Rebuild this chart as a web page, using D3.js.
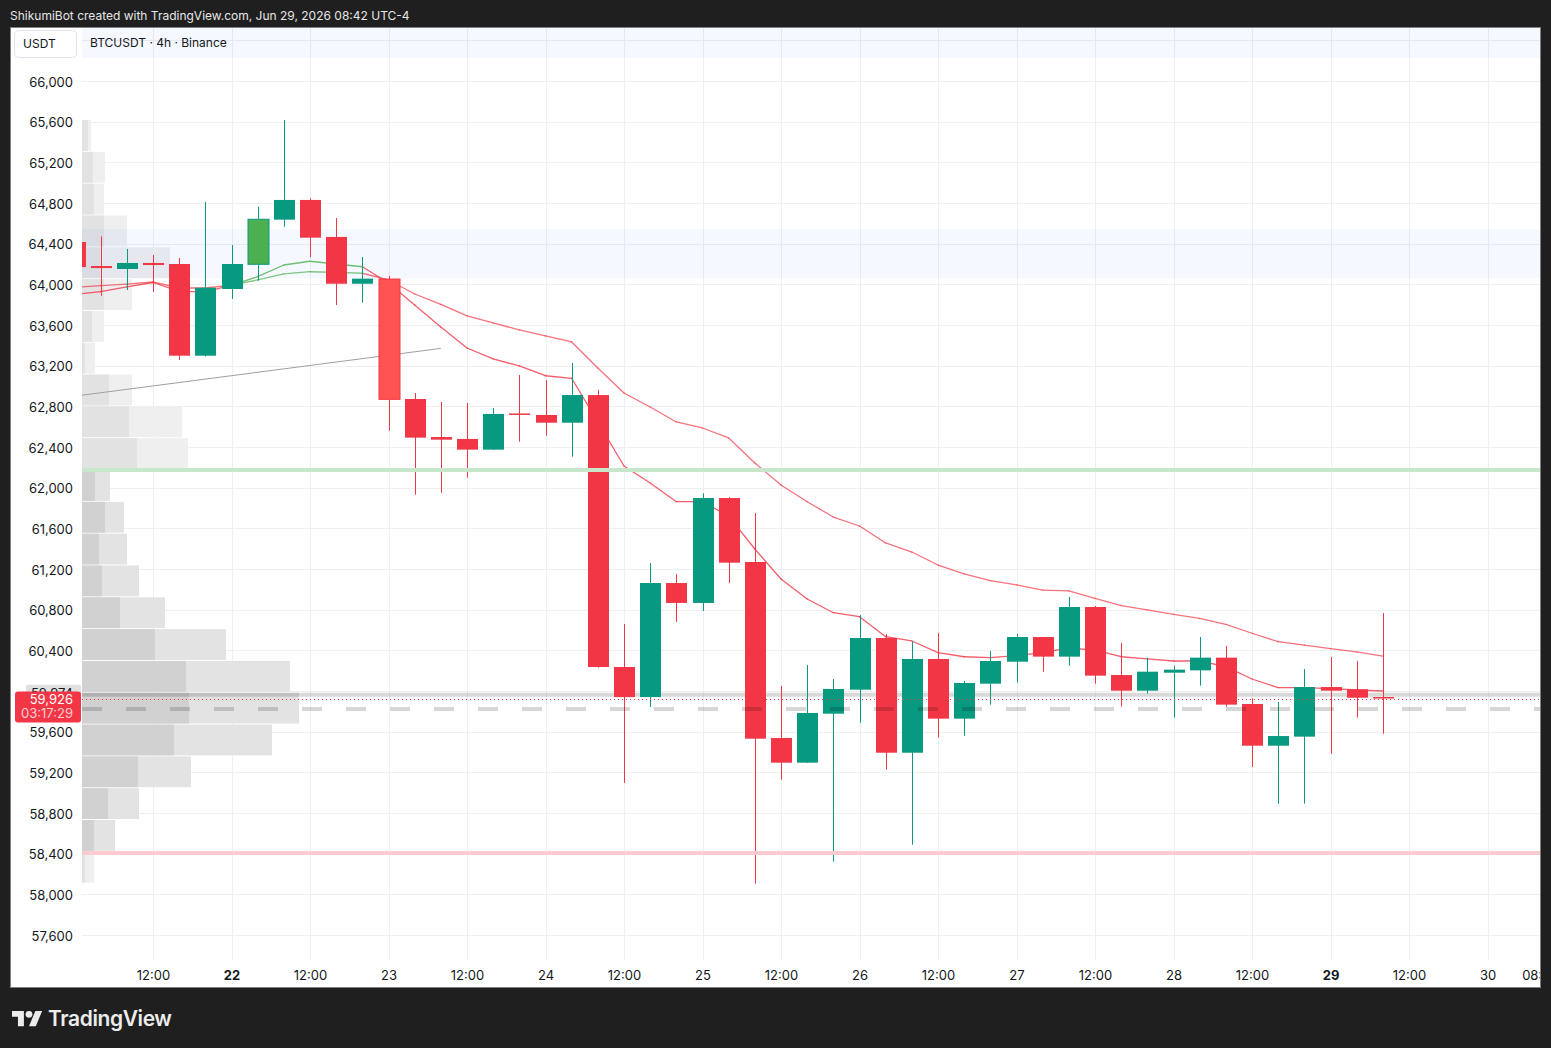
<!DOCTYPE html>
<html>
<head>
<meta charset="utf-8">
<script src="https://cdn.jsdelivr.net/npm/d3@7"></script>
<style>
  body { margin: 0; background: #1f1f1f; }
  svg { display: block; font-family: Inter, "Noto Sans", sans-serif; }
</style>
</head>
<body>
<svg id="chart" width="1551" height="1048"></svg>
<script>
// BTCUSDT 4h candles, chart time UTC-4, first bar Jun 21 00:00
var firstBar = "2026-06-21T00:00:00Z";
var opens  = [64416,64180,64151,64210,64200,63298,63954,64197,64636,64830,64466,64006,64052,62872,62498,62479,62374,62730,62715,62639,62911,60236,59940,61062,60866,61898,61269,59538,59295,59777,60013,60521,59393,60315,59728,60072,60288,60531,60338,60826,60157,60003,60180,60203,60328,59872,59462,59551,60039,60017,59941];
var highs  = [64450,64472,64348,64289,64259,64810,64387,64764,65616,64846,64652,64269,64082,62931,62843,62833,62784,63108,63059,63226,62961,60659,61259,61150,61945,61908,61751,60049,60256,60118,60748,60561,60489,60571,60098,60393,60561,60531,60925,60836,60472,60328,60250,60531,60443,59928,59892,60216,60334,60295,60767];
var lows   = [64100,63888,63944,63925,63256,63290,63856,64036,64567,64269,63797,63820,62560,61931,61950,62098,62374,62453,62511,62305,60230,59095,59843,60679,60787,61062,58105,59128,59295,58321,59688,59226,58488,59541,59560,59865,60082,60190,60249,60072,59846,59974,59738,60052,59846,59252,58892,58892,59383,59738,59580];
var closes = [64170,64160,64210,64190,63298,63967,64200,64640,64830,64459,64006,64056,62869,62492,62472,62374,62725,62720,62639,62911,60236,59940,61062,60866,61898,61262,59531,59295,59784,60020,60521,59393,60315,59728,60079,60295,60531,60338,60826,60151,60003,60190,60210,60328,59866,59462,59557,60039,60003,59934,59926];
var signalBars = [7, 12];

// moving averages
var maFast = [63902,63928,63974,64018,63930,63925,63993,64075,64190,64227,64200,64173,64013,63797,63580,63374,63266,63197,63101,63076,62646,62213,62046,61862,61862,61721,61397,61102,60905,60770,60731,60534,60492,60377,60337,60328,60347,60377,60423,60403,60337,60315,60295,60295,60239,60118,60033,60033,60023,60010,60000];
var maSlow = [63969,63988,64003,64023,63964,63964,63993,64043,64102,64124,64118,64109,64043,63905,63802,63689,63620,63551,63492,63433,63177,62931,62793,62646,62587,62489,62243,62026,61862,61711,61623,61456,61367,61239,61151,61085,61043,60993,60984,60912,60839,60797,60754,60715,60656,60568,60485,60452,60416,60384,60344];

// visible range volume profile, 24 rows from high to low
var vpHigh = 65616, vpLow = 58105;
var vpUp   = [6,11,12,22,18,22,10,3,27,47,55,13,23,17,20,38,73,104,107,92,56,26,12,3];
var vpDown = [3,12,10,23,70,28,12,10,23,53,51,15,19,28,37,45,71,104,110,98,53,31,21,9];
var valueArea = [11, 22];
var pocPrice = 59974;

// drawings
var zones = [[64058, 64545], [66226, 66700]];
var supportLevel = 62174, lowLevel = 58406, dashedLevel = 59823;
var trendBars = [0, 14], trendPrices = [62900, 63370];
var lastPrice = 59926, countdown = "03:17:29";

var priceTicks = d3.range(57600, 66001, 400);

var svg = d3.select("#chart");
var plot = { left: 82, top: 28, right: 1540, bottom: 960 };

var barTimes = opens.map(function (d, i) { return new Date(Date.parse(firstBar) + i * 4 * 3600e3); });

var x = d3.scaleUtc()
  .domain([new Date("2026-06-21T00:00:00Z"), new Date("2026-06-30T00:00:00Z")])
  .range([74.5, 1487.5]);
var y = d3.scaleLinear().domain([57600, 66000]).range([935, 81]);
var step = x(barTimes[1]) - x(barTimes[0]);
var bodyW = Math.round(step * 0.8);

// panel
svg.append("rect").attr("x", 10.5).attr("y", 27.5).attr("width", 1530).attr("height", 960)
  .attr("fill", "#fff").attr("stroke", "#808080");

var defs = svg.append("defs");
defs.append("clipPath").attr("id", "plotClip").append("rect")
  .attr("x", plot.left).attr("y", plot.top).attr("width", plot.right - plot.left).attr("height", plot.bottom - plot.top);
defs.append("clipPath").attr("id", "panelClip").append("rect")
  .attr("x", 11).attr("y", 28).attr("width", 1529).attr("height", 959);

var g = svg.append("g").attr("clip-path", "url(#plotClip)");

// grid
var gridTimes = x.ticks(d3.utcHour.every(12));
g.selectAll(".vgrid").data(gridTimes).enter().append("line")
  .attr("x1", d => Math.round(x(d)) + 0.5).attr("x2", d => Math.round(x(d)) + 0.5)
  .attr("y1", plot.top).attr("y2", plot.bottom)
  .attr("stroke", "#efefef");
g.selectAll(".hgrid").data(d3.range(57200, 66801, 400)).enter().append("line")
  .attr("x1", plot.left).attr("x2", plot.right)
  .attr("y1", d => Math.round(y(d)) + 0.5).attr("y2", d => Math.round(y(d)) + 0.5)
  .attr("stroke", "#efefef");

// volume profile
var rowH = (vpHigh - vpLow) / vpUp.length;
var vpx = d3.scaleLinear().domain([0, d3.max(vpUp, (d, i) => d + vpDown[i])]).range([0, 217]);
vpUp.forEach(function (up, i) {
  var top = y(vpHigh - i * rowH), bot = y(vpHigh - (i + 1) * rowH);
  var inVA = i >= valueArea[0] && i <= valueArea[1];
  g.append("rect").attr("x", plot.left).attr("y", top).attr("height", bot - top - 1)
    .attr("width", vpx(up + vpDown[i])).attr("fill", inVA ? "#e3e3e3" : "#efefef");
  g.append("rect").attr("x", plot.left).attr("y", top).attr("height", bot - top - 1)
    .attr("width", vpx(up)).attr("fill", inVA ? "#d1d1d1" : "#e2e2e2");
});

// zones
zones.forEach(function (z) {
  g.append("rect").attr("x", plot.left).attr("width", plot.right - plot.left)
    .attr("y", y(z[1])).attr("height", y(z[0]) - y(z[1]))
    .attr("fill", "rgba(41,98,255,0.045)");
});

// POC line
g.append("line").attr("x1", plot.left).attr("x2", plot.right)
  .attr("y1", y(pocPrice) + 1).attr("y2", y(pocPrice) + 1)
  .attr("stroke", "rgba(0,0,0,0.15)").attr("stroke-width", 4);

// trend line
g.append("line")
  .attr("x1", x(barTimes[trendBars[0]])).attr("y1", y(trendPrices[0]))
  .attr("x2", x(barTimes[trendBars[1]])).attr("y2", y(trendPrices[1]))
  .attr("stroke", "#a0a0a0").attr("stroke-width", 1);

// moving averages
function drawMA(vals, alpha) {
  for (var i = 1; i < vals.length; i++) {
    var up = maFast[i] > maSlow[i];
    g.append("line")
      .attr("x1", x(barTimes[i - 1])).attr("y1", y(vals[i - 1]))
      .attr("x2", x(barTimes[i])).attr("y2", y(vals[i]))
      .attr("stroke", up ? "#4caf50" : "#f23645")
      .attr("stroke-opacity", alpha).attr("stroke-width", 1.3)
      .attr("stroke-linecap", "round");
  }
}
drawMA(maSlow, 0.7);
drawMA(maFast, 0.8);

// candles
var candles = g.selectAll(".candle").data(opens).enter().append("g");
candles.append("line")
  .attr("x1", (d, i) => Math.round(x(barTimes[i])) + 0.5)
  .attr("x2", (d, i) => Math.round(x(barTimes[i])) + 0.5)
  .attr("y1", (d, i) => y(highs[i])).attr("y2", (d, i) => y(lows[i]))
  .attr("stroke", (d, i) => closes[i] >= d ? "#089981" : "#f23645");
candles.append("rect")
  .attr("x", (d, i) => Math.round(x(barTimes[i])) + 0.5 - bodyW / 2)
  .attr("width", bodyW)
  .attr("y", (d, i) => y(Math.max(d, closes[i])))
  .attr("height", (d, i) => Math.max(1.5, Math.abs(y(d) - y(closes[i]))))
  .attr("fill", function (d, i) {
    var up = closes[i] >= d;
    if (signalBars.indexOf(i) >= 0) return up ? "#4caf50" : "#ff5252";
    return up ? "#089981" : "#f23645";
  })
  .attr("stroke", (d, i) => signalBars.indexOf(i) >= 0 ? (closes[i] >= d ? "#089981" : "#f23645") : "none")
  .attr("stroke-width", 1);

// levels
g.append("line").attr("x1", plot.left).attr("x2", plot.right)
  .attr("y1", y(supportLevel)).attr("y2", y(supportLevel))
  .attr("stroke", "#c8e6c9").attr("stroke-width", 4);
g.append("line").attr("x1", plot.left).attr("x2", plot.right)
  .attr("y1", y(lowLevel)).attr("y2", y(lowLevel))
  .attr("stroke", "#fccbcd").attr("stroke-width", 4);
g.append("line").attr("x1", plot.left).attr("x2", plot.right)
  .attr("y1", y(dashedLevel)).attr("y2", y(dashedLevel))
  .attr("stroke", "rgba(0,0,0,0.16)").attr("stroke-width", 4)
  .attr("stroke-dasharray", "20,24");

// last price line
g.append("line").attr("x1", plot.left).attr("x2", plot.right)
  .attr("y1", Math.round(y(lastPrice)) + 0.5).attr("y2", Math.round(y(lastPrice)) + 0.5)
  .attr("stroke", "#f23645").attr("stroke-dasharray", "1,3");

// y axis
var yAxis = svg.append("g").attr("transform", "translate(" + plot.left + ",0)")
  .call(d3.axisLeft(y).tickValues(priceTicks).tickFormat(d3.format(",")).tickSize(0).tickPadding(9));
yAxis.select(".domain").remove();
yAxis.selectAll("text").attr("font-size", 13).attr("fill", "#131722").attr("font-family", "Inter, sans-serif")
  .attr("dy", "0.4em");

// price labels
svg.append("rect").attr("x", 26).attr("y", y(pocPrice) - 9).attr("width", 55).attr("height", 18)
  .attr("rx", 2).attr("fill", "#e0e0e0");
svg.append("text").attr("x", 73).attr("y", y(pocPrice) + 4.5).attr("text-anchor", "end")
  .attr("font-size", 13).attr("fill", "#131722").text(d3.format(",")(pocPrice));
svg.append("rect").attr("x", 15).attr("y", y(lastPrice) - 7).attr("width", 66).attr("height", 31)
  .attr("rx", 3).attr("fill", "#f23645");
svg.append("text").attr("x", 73).attr("y", y(lastPrice) + 5.5).attr("text-anchor", "end")
  .attr("font-size", 13).attr("fill", "#fff").text(d3.format(",")(lastPrice));
svg.append("text").attr("x", 73).attr("y", y(lastPrice) + 19.5).attr("text-anchor", "end")
  .attr("font-size", 13).attr("fill", "rgba(255,255,255,0.75)").text(countdown);

// x axis
var xTicks = gridTimes.filter(d => x(d) >= plot.left).concat([new Date("2026-06-30T08:00:00Z")]);
var xAxis = svg.append("g").attr("clip-path", "url(#panelClip)")
  .append("g").attr("transform", "translate(0," + plot.bottom + ")")
  .call(d3.axisBottom(x).tickValues(xTicks).tickSize(0).tickPadding(11)
    .tickFormat(d => d.getUTCHours() === 0 ? String(d.getUTCDate()) : d3.utcFormat("%H:%M")(d)));
xAxis.select(".domain").remove();
xAxis.selectAll("text").attr("font-size", 13).attr("fill", "#131722").attr("font-family", "Inter, sans-serif")
  .attr("font-weight", d => (d.getUTCHours() === 0 && d.getUTCDay() === 1) ? 700 : 400);

// header
svg.append("text").attr("x", 10).attr("y", 20).attr("font-size", 12).attr("fill", "#e6e6e6")
  .text("ShikumiBot created with TradingView.com, Jun 29, 2026 08:42 UTC-4");
svg.append("rect").attr("x", 14.5).attr("y", 30.5).attr("width", 62).attr("height", 27).attr("rx", 4)
  .attr("fill", "#fff").attr("stroke", "#e0e3eb");
svg.append("text").attr("x", 23).attr("y", 48).attr("font-size", 12).attr("fill", "#131722").text("USDT");
svg.append("text").attr("x", 90).attr("y", 47).attr("font-size", 12).attr("fill", "#131722")
  .text("BTCUSDT · 4h · Binance");

// TradingView logo
var logo = svg.append("g").attr("transform", "translate(12,1007.5) scale(0.85)").attr("fill", "#ececec");
logo.append("path").attr("d", "M14 22H7V11H0V4h14v18zM28 22h-8l7.5-18h8L28 22z");
logo.append("circle").attr("cx", 20).attr("cy", 8).attr("r", 4);
svg.append("text").attr("x", 48).attr("y", 1026).attr("font-size", 21).attr("font-weight", 600)
  .attr("fill", "#ececec").attr("letter-spacing", -0.4).text("TradingView");
</script>
</body>
</html>
